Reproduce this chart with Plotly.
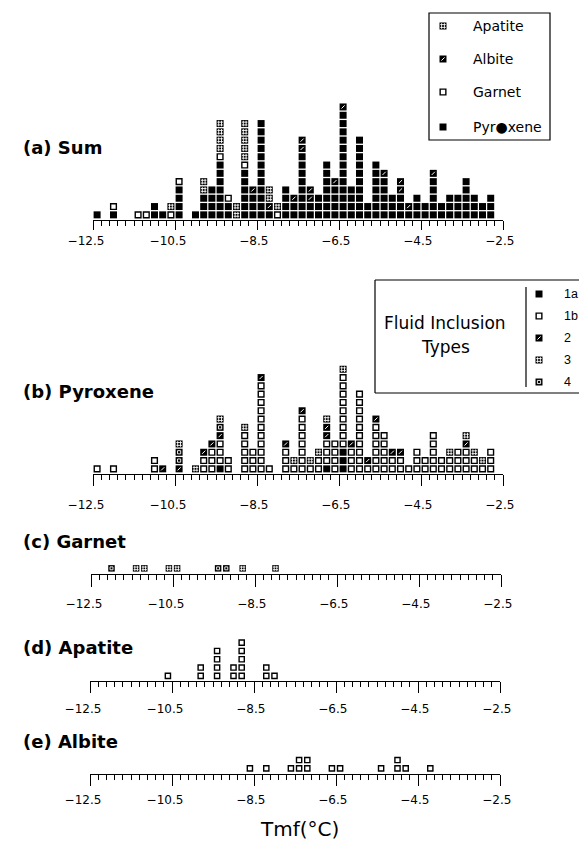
import plotly.graph_objects as go

# page offset (body margin) and figure size chosen so the page does not scroll
OFF = 8
W, H = 571, 840

# ---------------- data (bin centres, 0.2 degC bins) ----------------
tmf_bins = [-12.4, -12.2, -12.0, -11.8, -11.6, -11.4, -11.2, -11.0, -10.8, -10.6,
            -10.4, -10.2, -10.0, -9.8, -9.6, -9.4, -9.2, -9.0, -8.8, -8.6,
            -8.4, -8.2, -8.0, -7.8, -7.6, -7.4, -7.2, -7.0, -6.8, -6.6,
            -6.4, -6.2, -6.0, -5.8, -5.6, -5.4, -5.2, -5.0, -4.8, -4.6,
            -4.4, -4.2, -4.0, -3.8, -3.6, -3.4, -3.2, -3.0, -2.8, -2.6]

# pyroxene inclusions by fluid-inclusion type
pyx_1a = [0, 0, 0, 0, 0, 0, 0, 0, 0, 0, 0, 0, 0, 0, 0, 1, 0, 0, 0, 0, 0, 0, 0, 0, 0,
          0, 0, 0, 1, 0, 3, 0, 0, 0, 0, 0, 0, 0, 0, 0, 0, 0, 0, 0, 0, 0, 0, 0, 0, 0]
pyx_1b = [1, 0, 1, 0, 0, 0, 0, 2, 0, 0, 0, 0, 0, 2, 3, 3, 2, 0, 5, 3, 11, 1, 0, 3, 1,
          7, 1, 2, 3, 4, 9, 3, 10, 1, 6, 5, 2, 2, 1, 3, 2, 5, 2, 2, 3, 3, 2, 1, 3, 0]
pyx_2 = [0, 0, 0, 0, 0, 0, 0, 0, 1, 0, 1, 0, 0, 1, 1, 1, 0, 0, 0, 0, 1, 0, 0, 1, 0,
         1, 0, 0, 2, 0, 0, 1, 0, 1, 1, 0, 1, 1, 0, 0, 0, 0, 0, 0, 0, 1, 0, 0, 0, 0]
pyx_3 = [0, 0, 0, 0, 0, 0, 0, 0, 0, 0, 1, 0, 1, 0, 0, 1, 0, 0, 1, 0, 0, 0, 0, 0, 1,
         0, 1, 1, 1, 0, 1, 0, 0, 0, 0, 0, 0, 0, 0, 0, 0, 0, 0, 1, 0, 1, 1, 1, 0, 0]
pyx_4 = [0, 0, 0, 0, 0, 0, 0, 0, 0, 0, 2, 0, 0, 0, 0, 1, 0, 0, 0, 0, 0, 0, 0, 0, 0,
         0, 0, 0, 0, 0, 0, 0, 0, 0, 0, 0, 0, 0, 0, 0, 0, 0, 0, 0, 0, 0, 0, 0, 0, 0]

# garnet inclusions (types 3 and 4)
garnet_3 = [0, 0, 0, 0, 0, 1, 1, 0, 0, 1, 1, 0, 0, 0, 0, 0, 0, 0, 1, 0, 0, 0, 1, 0, 0,
            0, 0, 0, 0, 0, 0, 0, 0, 0, 0, 0, 0, 0, 0, 0, 0, 0, 0, 0, 0, 0, 0, 0, 0, 0]
garnet_4 = [0, 0, 1, 0, 0, 0, 0, 0, 0, 0, 0, 0, 0, 0, 0, 1, 1, 0, 0, 0, 0, 0, 0, 0, 0,
            0, 0, 0, 0, 0, 0, 0, 0, 0, 0, 0, 0, 0, 0, 0, 0, 0, 0, 0, 0, 0, 0, 0, 0, 0]

# apatite and albite inclusions (type 1b)
apatite = [0, 0, 0, 0, 0, 0, 0, 0, 0, 1, 0, 0, 0, 2, 0, 4, 0, 2, 5, 0, 0, 2, 1, 0, 0,
           0, 0, 0, 0, 0, 0, 0, 0, 0, 0, 0, 0, 0, 0, 0, 0, 0, 0, 0, 0, 0, 0, 0, 0, 0]
albite = [0, 0, 0, 0, 0, 0, 0, 0, 0, 0, 0, 0, 0, 0, 0, 0, 0, 0, 0, 1, 0, 1, 0, 0, 1,
          2, 2, 0, 0, 1, 1, 0, 0, 0, 0, 1, 0, 2, 1, 0, 0, 1, 0, 0, 0, 0, 0, 0, 0, 0]

tick_vals = [-12.5, -10.5, -8.5, -6.5, -4.5, -2.5]
# one-digit labels padded in front with a figure space so all labels end at the same offset
tick_text = ["\u221212.5", "\u221210.5", "\u2007\u22128.5", "\u2007\u22126.5",
             "\u2007\u22124.5", "\u2007\u22122.5"]

panel_titles = ["(a) Sum", "(b) Pyroxene", "(c) Garnet", "(d) Apatite", "(e) Albite"]
mineral_legend = ["Apatite", "Albite", "Garnet", "Pyr\u25cfxene"]
type_legend = ["1a", "1b", "2", "3", "4"]
x_title = "Tmf(\u00b0C)"

# ---------------- derived ----------------
pyx_total = [a + b + c + d + e for a, b, c, d, e in zip(pyx_1a, pyx_1b, pyx_2, pyx_3, pyx_4)]
garnet_total = [a + b for a, b in zip(garnet_3, garnet_4)]

# ---------------- geometry (screen pixels) ----------------
PITCH = 8.3
FONT = "DejaVu Sans"
panels = [  # baseline, top, x(-12.5), x(-2.5), major tick length, label standoff
    dict(base=220, top=90, x0=93.0, x1=503.0, tl=9, standoff=0),
    dict(base=474, top=350, x0=93.0, x1=503.0, tl=11, standoff=8),
    dict(base=573.5, top=552, x0=91.0, x1=501.0, tl=12, standoff=7),
    dict(base=681, top=625, x0=90.0, x1=500.0, tl=11, standoff=5),
    dict(base=773.5, top=745, x0=90.0, x1=500.0, tl=11, standoff=4),
]


def PX(sx):
    return (sx - OFF) / W


def PY(sy):
    return 1 - (sy - OFF) / H


fig = go.Figure()


def ref(n):
    return ("x", "y") if n == 1 else (f"x{n}", f"y{n}")


def add_style(xs, ys, n, style, size):
    if not xs:
        return
    xr, yr = ref(n)
    common = dict(x=xs, y=ys, xaxis=xr, yaxis=yr, mode="markers",
                  showlegend=False, hoverinfo="skip", cliponaxis=False)
    if style == "white":
        fig.add_trace(go.Scatter(**common, marker=dict(
            symbol="square", size=size - 1.3, color="white",
            line=dict(color="black", width=1.4))))
        return
    fig.add_trace(go.Scatter(**common, marker=dict(
        symbol="square", size=size, color="black", line=dict(width=0))))
    if style == "mark":
        fig.add_trace(go.Scatter(**common, marker=dict(
            symbol="line-ne", size=size * 0.45, color="white",
            line=dict(color="white", width=1))))
    elif style == "hash":
        fig.add_trace(go.Scatter(**common, marker=dict(
            symbol="hash-open", size=size * 0.8, color="white",
            line=dict(color="white", width=0.9))))
    elif style == "ring":
        fig.add_trace(go.Scatter(**common, marker=dict(
            symbol="square-open", size=size * 0.45, color="white",
            line=dict(color="white", width=0.9))))


def stack_panel(n, layers, size):
    pts = {}
    for i, x in enumerate(tmf_bins):
        h = 0
        for counts, style in layers:
            for _ in range(counts[i]):
                pts.setdefault(style, ([], []))
                pts[style][0].append(x)
                pts[style][1].append(h + 0.5)
                h += 1
    for style, (xs, ys) in pts.items():
        add_style(xs, ys, n, style, size)


stack_panel(1, [(pyx_total, "black"), (garnet_total, "white"),
                (albite, "mark"), (apatite, "hash")], 7)
stack_panel(2, [(pyx_1a, "black"), (pyx_1b, "white"), (pyx_2, "mark"),
                (pyx_4, "ring"), (pyx_3, "hash")], 7)
stack_panel(3, [(garnet_4, "ring"), (garnet_3, "hash")], 6.5)
stack_panel(4, [(apatite, "white")], 6.5)
stack_panel(5, [(albite, "white")], 6.5)

layout = dict(width=W, height=H, autosize=False,
              margin=dict(l=0, r=0, t=0, b=0, pad=0, autoexpand=False),
              paper_bgcolor="white", plot_bgcolor="rgba(0,0,0,0)",
              font=dict(family=FONT, color="black"))

for k, p in enumerate(panels, start=1):
    xa = "xaxis" if k == 1 else f"xaxis{k}"
    ya = "yaxis" if k == 1 else f"yaxis{k}"
    xr, yr = ref(k)
    layout[xa] = dict(
        domain=[PX(p["x0"]), PX(p["x1"])], range=[-12.5, -2.5], anchor=yr,
        showline=True, linecolor="black", linewidth=1.2, showgrid=False, zeroline=False,
        tickmode="array", tickvals=tick_vals, ticktext=tick_text,
        ticks="outside", ticklen=p["tl"], tickwidth=1.2, tickcolor="black",
        ticklabelstandoff=p["standoff"], ticklabelshift=-7, automargin=False,
        tickfont=dict(family=FONT, size=12, color="black"),
        minor=dict(tick0=-12.5, dtick=0.2, ticks="outside", ticklen=5,
                   tickwidth=1, tickcolor="black"),
        fixedrange=True)
    layout[ya] = dict(
        domain=[PY(p["base"]), PY(p["top"])],
        range=[-0.12, (p["base"] - p["top"]) / PITCH - 0.12],
        anchor=xr, visible=False, fixedrange=True)

# overlay axis in screen pixels for the legend keys
layout["xaxis6"] = dict(domain=[0, 1], range=[OFF, OFF + W], anchor="y6", visible=False,
                        fixedrange=True)
layout["yaxis6"] = dict(domain=[0, 1], range=[OFF + H, OFF], anchor="x6", visible=False,
                        fixedrange=True)
fig.update_layout(**layout)

# legend keys
leg1_styles = ["hash", "mark", "white", "black"]
leg1_y = [26, 59, 92, 127]
for s, yy in zip(leg1_styles, leg1_y):
    add_style([443], [yy], 6, s, 7)
leg2_styles = ["black", "white", "mark", "hash", "ring"]
leg2_y = [294, 316, 338, 360, 382]
for s, yy in zip(leg2_styles, leg2_y):
    add_style([539], [yy], 6, s, 7)


def text(t, sx, sy, size, anchor="left", family=FONT):
    return dict(text=t, x=PX(sx), y=PY(sy), xref="paper", yref="paper",
                xanchor=anchor, yanchor="middle", showarrow=False,
                font=dict(family=family, size=size, color="black"))


ann = []
title_y = [148, 392, 541, 647, 741]
for t, yy in zip(panel_titles, title_y):
    ann.append(text("<b>" + t + "</b>", 21, yy, 18))
for t, yy in zip(mineral_legend, leg1_y):
    ann.append(text(t, 471, yy, 14))
for t, yy in zip(type_legend, leg2_y):
    ann.append(text(t, 562, yy, 12.5, family="Liberation Sans"))
for t, yy in zip(["Fluid Inclusion", "Types"], [323, 347]):
    ann.append(text(t, 445, yy, 17, anchor="center"))
ann.append(text(x_title, 299, 829, 20, anchor="center"))


def seg(sx0, sy0, sx1, sy1, w=1.2):
    return dict(type="line", xref="paper", yref="paper",
                x0=PX(sx0), y0=PY(sy0), x1=PX(sx1), y1=PY(sy1),
                line=dict(color="black", width=w))


shapes = [
    dict(type="rect", xref="paper", yref="paper", x0=PX(429), y0=PY(13), x1=PX(550),
         y1=PY(140), line=dict(color="black", width=1.2)),
    seg(375, 280, 579, 280),
    seg(375, 280, 375, 393),
    seg(375, 393, 579, 393),
    seg(526, 287, 526, 387),
]

fig.update_layout(annotations=ann, shapes=shapes)
fig.write_html("out.html")
